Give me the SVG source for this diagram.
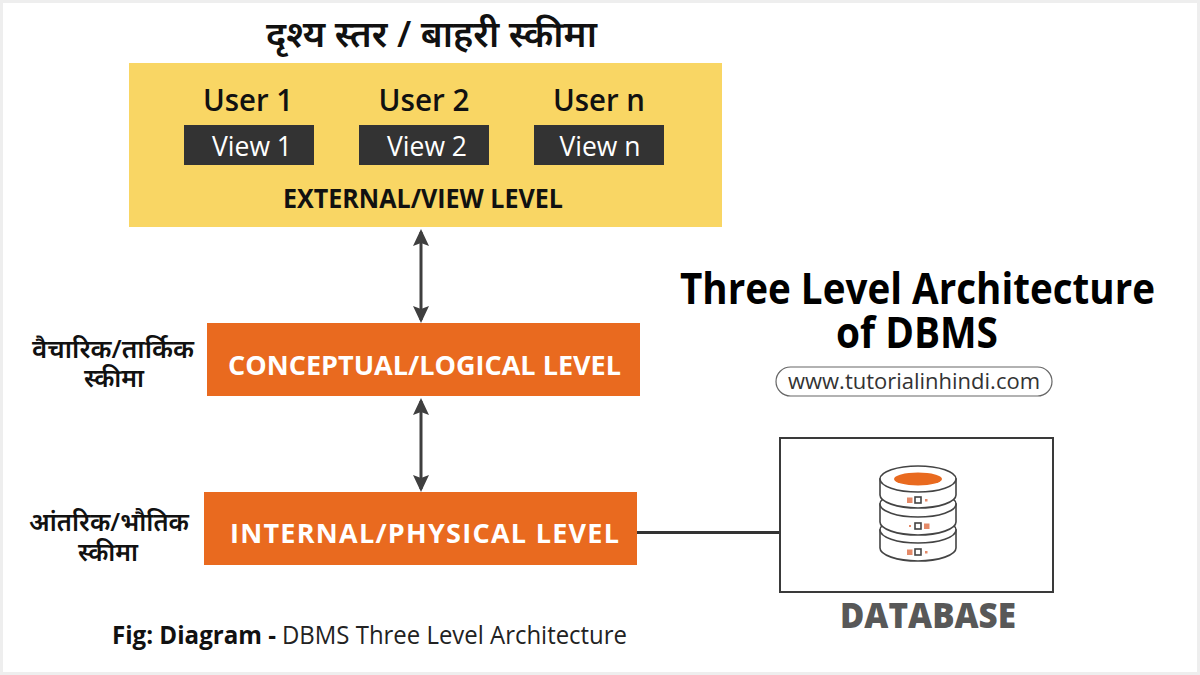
<svg xmlns="http://www.w3.org/2000/svg" width="1200" height="675" viewBox="0 0 1200 675">
<defs>
<marker id="ah" markerUnits="userSpaceOnUse" markerWidth="18" markerHeight="17" refX="14" refY="8.5" orient="auto-start-reverse"><path d="M0 0.5L17 8.5L0 16.5L3 8.5Z" fill="#3f3f3f"/></marker>
</defs>
<style>
text{font-family:"Open Sans","Noto Sans","Noto Sans Devanagari",sans-serif}
.hi{font-weight:600;fill:#111;text-anchor:middle}
.u{font-size:31px;font-weight:600;fill:#111;text-anchor:middle}
.v{font-size:28px;font-weight:500;fill:#fff;text-anchor:middle}
.lv{font-size:27px;font-weight:700;fill:#fff;text-anchor:middle}
.dark{fill:#333}
.org{fill:#e96a1f}
.ln{stroke:#3f3f3f;stroke-width:3;fill:none}
.disk{fill:#fff;stroke:#444;stroke-width:1.6}
.sq{fill:#e58a68}
.box{fill:#fff;stroke:#444;stroke-width:1.6}
.ti{font-size:43px;font-weight:700;fill:#000;text-anchor:middle}
</style>
<rect width="1200" height="675" fill="#fff"/>
<rect x="1.5" y="1.5" width="1197" height="672" fill="none" stroke="#eeeeee" stroke-width="3"/>
<text class="hi" x="431.5" y="47" font-size="36" textLength="331" lengthAdjust="spacingAndGlyphs">दृश्य स्तर / बाहरी स्कीमा</text>
<g id="external">
<rect x="129" y="63" width="593" height="164" fill="#f9d664"/>
<text class="u" x="248" y="111" textLength="90" lengthAdjust="spacingAndGlyphs">User 1</text>
<text class="u" x="424" y="111" textLength="91" lengthAdjust="spacingAndGlyphs">User 2</text>
<text class="u" x="599" y="111" textLength="92" lengthAdjust="spacingAndGlyphs">User n</text>
<text x="423" y="208" font-size="26" font-weight="700" fill="#111" text-anchor="middle" textLength="280" lengthAdjust="spacingAndGlyphs">EXTERNAL/VIEW LEVEL</text>
</g>
<g id="view1"><rect class="dark" x="184" y="125" width="130" height="40"/><text class="v" x="252" y="156" textLength="80" lengthAdjust="spacingAndGlyphs">View 1</text></g>
<g id="view2"><rect class="dark" x="359" y="125" width="130" height="40"/><text class="v" x="427" y="156" textLength="80" lengthAdjust="spacingAndGlyphs">View 2</text></g>
<g id="viewn"><rect class="dark" x="534" y="125" width="130" height="40"/><text class="v" x="600" y="156" textLength="81" lengthAdjust="spacingAndGlyphs">View n</text></g>
<g id="conceptual"><rect class="org" x="207" y="323" width="433" height="73"/><text class="lv" x="424.5" y="375" textLength="393" lengthAdjust="spacing">CONCEPTUAL/LOGICAL LEVEL</text></g>
<g id="internal"><rect class="org" x="204" y="492" width="433" height="73"/><text class="lv" x="424.5" y="543" textLength="389" lengthAdjust="spacing">INTERNAL/PHYSICAL LEVEL</text></g>
<g id="label-conceptual">
<text class="hi" x="113" y="358" font-size="25" textLength="162" lengthAdjust="spacingAndGlyphs">वैचारिक/तार्किक</text>
<text class="hi" x="114" y="387" font-size="25">स्कीमा</text>
</g>
<g id="label-internal">
<text class="hi" x="109" y="531" font-size="25" textLength="160" lengthAdjust="spacingAndGlyphs">आंतरिक/भौतिक</text>
<text class="hi" x="108" y="561" font-size="25">स्कीमा</text>
</g>
<g id="connectors">
<line class="ln" x1="421" y1="232" x2="421" y2="320" marker-start="url(#ah)" marker-end="url(#ah)"/>
<line class="ln" x1="421" y1="401" x2="421" y2="489" marker-start="url(#ah)" marker-end="url(#ah)"/>
<line x1="637" y1="532.5" x2="780" y2="532.5" stroke="#333" stroke-width="3"/>
</g>
<g id="title">
<text class="ti" x="917.5" y="304" textLength="475" lengthAdjust="spacingAndGlyphs">Three Level Architecture</text>
<text class="ti" x="917" y="348" textLength="162" lengthAdjust="spacingAndGlyphs">of DBMS</text>
</g>
<g id="website">
<rect x="776" y="367" width="276" height="29" rx="14.5" fill="#fff" stroke="#666" stroke-width="1.2"/>
<text x="914" y="389" font-size="22" font-weight="400" fill="#333" text-anchor="middle" textLength="252" lengthAdjust="spacingAndGlyphs">www.tutorialinhindi.com</text>
</g>
<g id="database">
<rect x="780" y="438" width="273" height="154" fill="#fff" stroke="#3a3a3a" stroke-width="2"/>
<path class="disk" d="M880 530V548C880 555 897 561 918 561S956 555 956 548V530Z"/>
<ellipse class="disk" cx="918" cy="530" rx="38" ry="13"/>
<path class="disk" d="M880 504V522C880 529 897 535 918 535S956 529 956 522V504Z"/>
<ellipse class="disk" cx="918" cy="504" rx="38" ry="13"/>
<path class="disk" d="M880 479V495C880 502 897 508 918 508S956 502 956 495V479Z"/>
<ellipse class="disk" cx="918" cy="479" rx="38" ry="13"/>
<ellipse cx="918" cy="479" rx="24" ry="6.5" fill="#e96a1f"/>
<rect class="sq" x="907" y="497.5" width="5.5" height="5.5"/><rect class="box" x="915" y="497" width="6" height="6"/><rect class="sq" x="925" y="499" width="2.5" height="2.5"/>
<rect class="sq" x="909" y="525" width="2" height="2"/><rect class="box" x="915" y="523" width="6" height="6"/><rect class="sq" x="924" y="523.5" width="5.5" height="5.5"/>
<rect class="sq" x="907" y="549.5" width="5.5" height="5.5"/><rect class="box" x="915" y="549" width="6" height="6"/><rect class="sq" x="925" y="551" width="2.5" height="2.5"/>
<text x="928" y="628" font-size="35" font-weight="800" fill="#585858" text-anchor="middle" textLength="176" lengthAdjust="spacingAndGlyphs">DATABASE</text>
</g>
<g id="caption">
<text x="112" y="644" font-size="25" font-weight="700" fill="#111" textLength="164" lengthAdjust="spacingAndGlyphs">Fig: Diagram -</text>
<text x="282" y="644" font-size="25" font-weight="400" fill="#222" textLength="345" lengthAdjust="spacingAndGlyphs">DBMS Three Level Architecture</text>
</g>
</svg>
